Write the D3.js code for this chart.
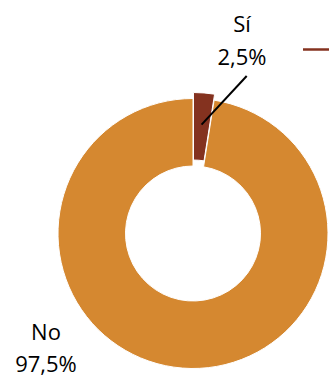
<!DOCTYPE html>
<html>
<head>
<meta charset="utf-8">
<script src="https://cdn.jsdelivr.net/npm/d3@7"></script>
<style>
  html, body { margin: 0; padding: 0; background: #fff; }
  svg { display: block; }
  text { font-family: "Open Sans", "Liberation Sans", sans-serif; fill: #000; }
</style>
</head>
<body>
<svg id="chart" width="329" height="377"></svg>
<script>
const categories = ["Sí", "No"];
const values = [2.5, 97.5];
const valueLabels = ["2,5%", "97,5%"];
const colors = ["#84321F", "#D58830"];

const svg = d3.select("#chart");
const cx = 193, cy = 233.5, rOuter = 135, rInner = 67.5;
const explode = [6, 0];

const pie = d3.pie().sort(null).value(d => d.value).startAngle(0).endAngle(2 * Math.PI);
const data = categories.map((c, i) => ({ name: c, value: values[i], label: valueLabels[i], color: colors[i], explode: explode[i] }));
const arcs = pie(data);
const arc = d3.arc().innerRadius(rInner).outerRadius(rOuter);

const g = svg.append("g").attr("transform", `translate(${cx},${cy})`);

g.selectAll("path.slice")
  .data(arcs)
  .join("path")
  .attr("class", "slice")
  .attr("d", arc)
  .attr("fill", d => d.data.color)
  .attr("stroke", "#fff")
  .attr("stroke-width", 1)
  .attr("transform", d => {
    const mid = (d.startAngle + d.endAngle) / 2;
    const e = d.data.explode;
    return `translate(${Math.sin(mid) * e},${-Math.cos(mid) * e})`;
  });

// Leader line for "Sí" label
const si = arcs[0];
const siMid = (si.startAngle + si.endAngle) / 2;
const anchorR = (rInner + rOuter) / 2 * 0.98 + 4;
const ax = cx + Math.sin(siMid) * (anchorR + si.data.explode);
const ay = cy - Math.cos(siMid) * (anchorR + si.data.explode);
svg.append("line")
  .attr("x1", 246.7).attr("y1", 76)
  .attr("x2", ax).attr("y2", ay)
  .attr("stroke", "#000").attr("stroke-width", 2);

// Labels
const labelPos = [
  { x: 242, y1: 32, y2: 65 },
  { x: 46, y1: 340, y2: 372 }
];
arcs.forEach((d, i) => {
  const p = labelPos[i];
  svg.append("text").attr("x", p.x).attr("y", p.y1).attr("text-anchor", "middle")
    .attr("font-size", 22).text(d.data.name);
  svg.append("text").attr("x", p.x).attr("y", p.y2).attr("text-anchor", "middle")
    .attr("font-size", 22).text(d.data.label);
});

// Partial legend marker (cut off at right edge)
svg.append("line")
  .attr("x1", 303).attr("x2", 340).attr("y1", 49.5).attr("y2", 49.5)
  .attr("stroke", colors[0]).attr("stroke-width", 2.5);
</script>
</body>
</html>
